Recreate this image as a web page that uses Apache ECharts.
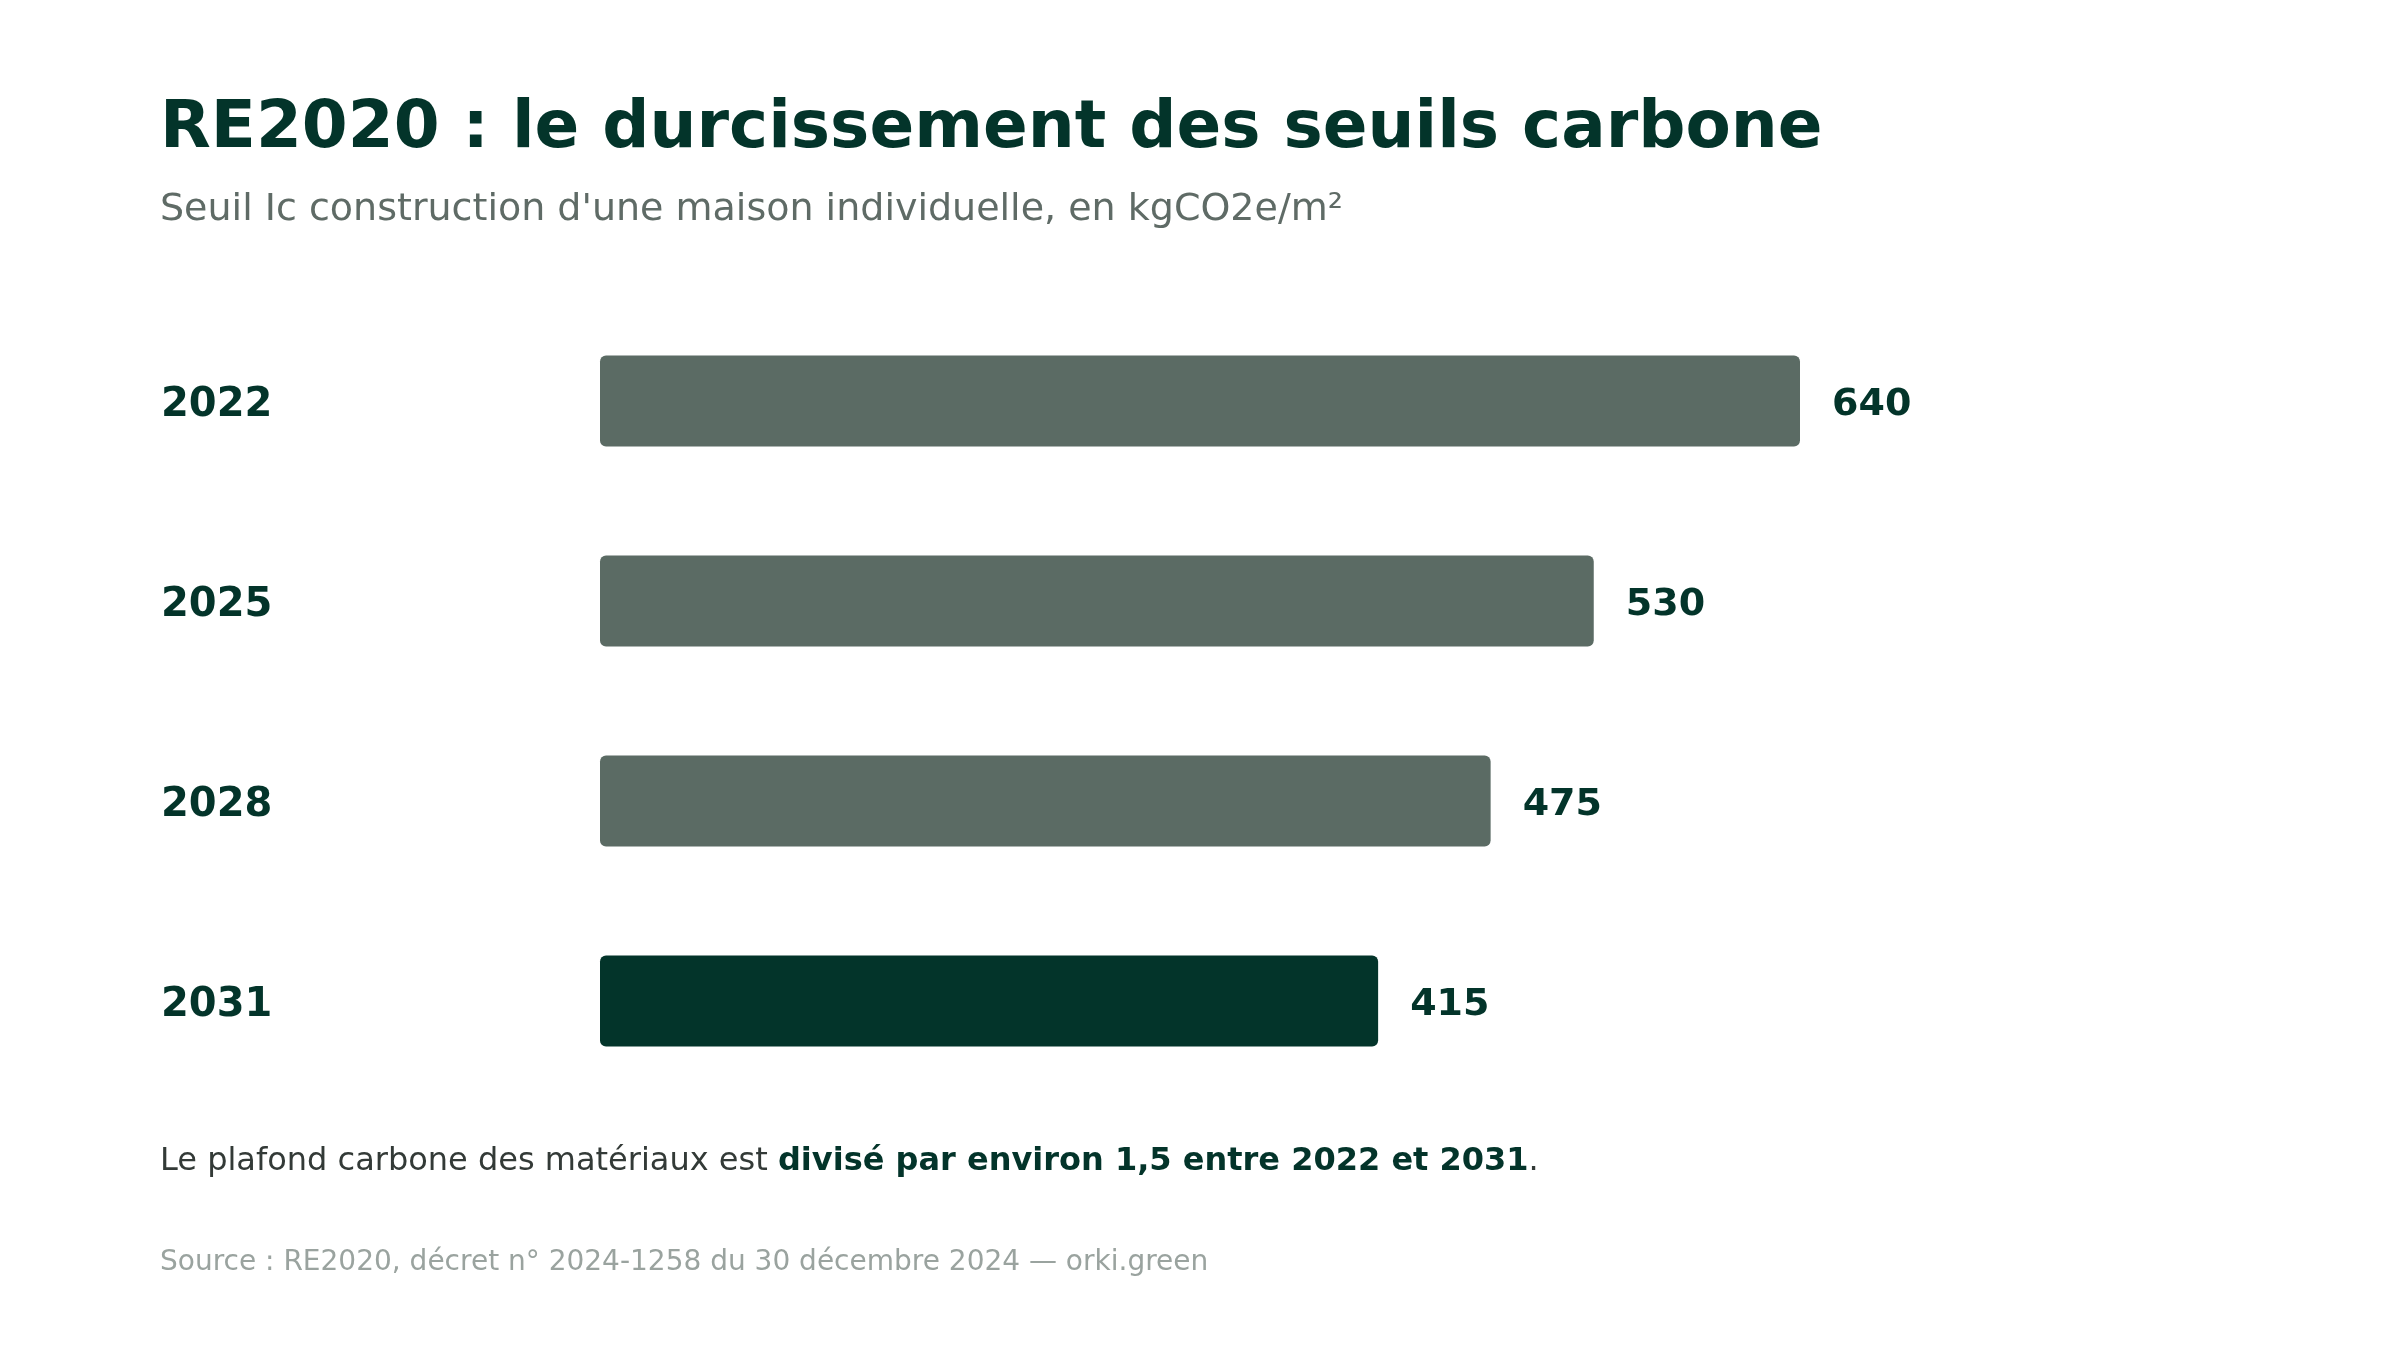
<!DOCTYPE html>
<html>
<head>
<meta charset="utf-8">
<script src="https://cdn.jsdelivr.net/npm/echarts@6/dist/echarts.min.js"></script>
<style>
  html, body { margin: 0; padding: 0; background: #fff; }
  #chart { width: 2400px; height: 1350px; }
</style>
</head>
<body>
<div id="chart"></div>
<script>
// seuils Ic construction, maison individuelle
var years = ['2022', '2025', '2028', '2031'];
var seuils = [640, 530, 475, 415];

var DARK = '#03342a';
var GREY = '#5b6b64';
var FONT = '"DejaVu Sans", sans-serif';

var chart = echarts.init(document.getElementById('chart'));
chart.setOption({
  backgroundColor: '#ffffff',
  animation: false,
  grid: { left: 600, right: 600, top: 301, bottom: 249 },
  xAxis: {
    type: 'value',
    min: 0,
    max: 640,
    show: false
  },
  yAxis: {
    type: 'category',
    data: years,
    inverse: true,
    axisLine: { show: false },
    axisTick: { show: false },
    splitLine: { show: false },
    axisLabel: {
      margin: 439,
      align: 'left',
      formatter: function (v) { return '{y|' + v + '}'; },
      rich: {
        y: {
          padding: [9, 0, 0, 0],
          color: DARK,
          fontFamily: FONT,
          fontWeight: 'bold',
          fontSize: 40
        }
      }
    }
  },
  series: [{
    type: 'bar',
    barWidth: 91,
    data: seuils.map(function (v, i) {
      return {
        value: v,
        itemStyle: { color: i === seuils.length - 1 ? DARK : GREY }
      };
    }),
    itemStyle: { borderRadius: 6 },
    label: {
      show: true,
      position: 'right',
      distance: 32,
      offset: [0, 4],
      color: DARK,
      fontFamily: FONT,
      fontWeight: 'bold',
      fontSize: 38
    }
  }],
  graphic: [
    {
      type: 'text', x: 160, y: 130,
      style: {
        text: 'RE2020 : le durcissement des seuils carbone',
        fill: DARK, font: 'bold 66px ' + FONT, verticalAlign: 'middle'
      }
    },
    {
      type: 'text', x: 160, y: 210,
      style: {
        text: "Seuil Ic construction d'une maison individuelle, en kgCO2e/m²",
        fill: '#5f6b66', font: '38px ' + FONT, verticalAlign: 'middle'
      }
    },
    {
      type: 'text', x: 160, y: 1162,
      style: {
        text: '{a|Le plafond carbone des matériaux est }{b|divisé par environ 1,5 entre 2022 et 2031}{a|.}',
        verticalAlign: 'middle',
        rich: {
          a: { fill: '#333a37', fontFamily: FONT, fontSize: 32 },
          b: { fill: DARK, fontFamily: FONT, fontSize: 32, fontWeight: 'bold' }
        }
      }
    },
    {
      type: 'text', x: 160, y: 1263,
      style: {
        text: 'Source : RE2020, décret n° 2024-1258 du 30 décembre 2024 — orki.green',
        fill: '#9aa39f', font: '28px ' + FONT, verticalAlign: 'middle'
      }
    }
  ]
});
</script>
</body>
</html>
